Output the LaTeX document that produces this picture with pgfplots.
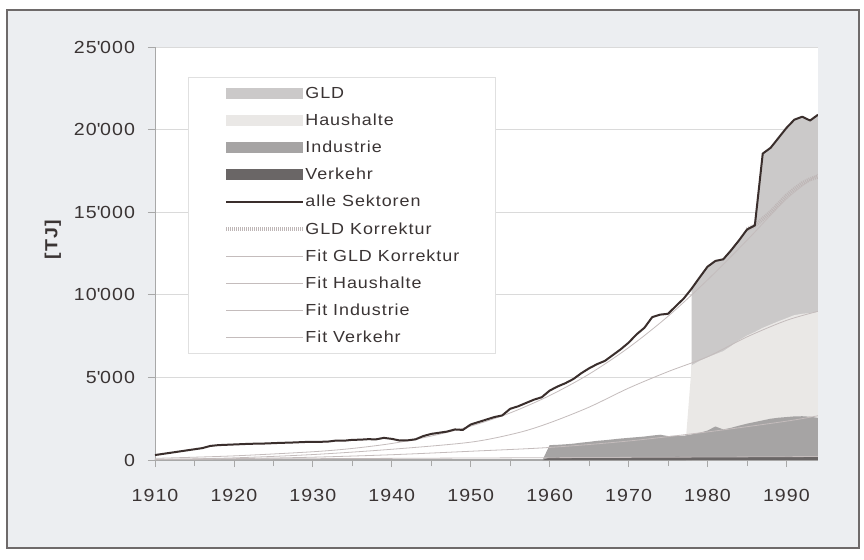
\documentclass[border=0pt]{standalone}
\usepackage{pgfplots}
\pgfplotsset{compat=1.18}
\usepackage{fontspec}
\setmainfont{Liberation Sans}[LetterSpace=6, FakeStretch=1.12]
\definecolor{bgc}{HTML}{ECEEF1}
\definecolor{framec}{HTML}{6E6A6A}
\definecolor{txt}{HTML}{3A3434}
\definecolor{gldc}{HTML}{CBC9C9}
\definecolor{haushc}{HTML}{EAE8E6}
\definecolor{indc}{HTML}{A6A4A4}
\definecolor{verkc}{HTML}{6A6666}
\definecolor{totc}{HTML}{3A2E2C}
\definecolor{fitc}{HTML}{C4BCBC}
\definecolor{gldkc}{HTML}{BEB6B6}
\definecolor{gridc}{HTML}{DADADA}
\definecolor{legc}{HTML}{E0E0E0}
\definecolor{axc}{HTML}{A8A8A8}
\pgfplotsset{
  areaLeg/.style={legend image code/.code={\path (0pt,0pt) -- (1pt,0pt); \fill[##1] (0pt,-2.8pt) rectangle (38.5pt,2.8pt);}},
  lineLeg/.style={legend image code/.code={\draw[##1] (0pt,0pt) -- (38.5pt,0pt);}},
}
\begin{document}
\begin{tikzpicture}
\path[fill=white] (0,0) rectangle (432pt,279.5pt);
\path[fill=bgc, draw=framec, line width=0.8pt] (3.5pt,5.5pt) rectangle (429.5pt,274.5pt);
\begin{axis}[
  at={(77.5pt,49.5pt)}, anchor=south west,
  scale only axis, width=331.5pt, height=206.5pt,
  xmin=1910, xmax=1994, ymin=0, ymax=25000,
  scaled y ticks=false,
  axis background/.style={fill=white},
  axis lines*=left, axis line style={-},
  x axis line style={draw=axc, line width=1.1pt},
  y axis line style={draw=axc, line width=0.4pt},
  xtick={1910,1920,...,1990},
  xticklabels={1910,1920,1930,1940,1950,1960,1970,1980,1990},
  minor x tick num=1,
  ytick={0,5000,10000,15000,20000,25000},
  yticklabels={0,5\textquotesingle000,10\textquotesingle000,15\textquotesingle000,20\textquotesingle000,25\textquotesingle000},
  tick align=outside, major tick length=3.5pt, minor tick length=3pt,
  tick style={draw=axc, line width=0.4pt},
  ymajorgrids, grid style={draw=gridc, line width=0.4pt},
  tick label style={font=\fontsize{8.75}{10}\selectfont, text=txt},
  xticklabel style={yshift=-7.5pt},
  yticklabel style={xshift=-3pt},
  ylabel={\bfseries [TJ]},
  ylabel style={at={(axis description cs:-0.154,0.533)}, anchor=center, font=\fontsize{8.75}{10}\selectfont, text=txt},
  legend cell align=left,
  legend style={
    at={(0.0498,0.927)}, anchor=north west,
    draw=legc, fill=white, line width=0.4pt,
    inner xsep=18pt, inner ysep=1.2pt,
    font=\fontsize{8}{9.5}\selectfont, text=txt,
    row sep=0pt,
    nodes={inner sep=0pt, text height=9.3pt, text depth=4.25pt},
    /tikz/every even column/.append style={column sep=2.5pt},
  },
]
% GLD (stack top = total)
\addplot[fill=gldc, draw=none, areaLeg] coordinates {
(1978,10380)(1979,11050)(1980,11700)(1981,12050)(1982,12150)(1983,12700)(1984,13300)(1985,13950)(1986,14200)(1987,18550)(1988,18900)(1989,19500)(1990,20100)(1991,20600)(1992,20780)(1993,20550)(1994,20900)
} \closedcycle;
\addlegendentry{GLD}
% Haushalte (stack top)
\addplot[fill=haushc, draw=none, areaLeg] coordinates {
(1977.3,1470)(1978,5730)(1979,6000)(1980,6210)(1981,6400)(1982,6590)(1983,6900)(1984,7250)(1985,7530)(1986,7750)(1987,8000)(1988,8200)(1989,8400)(1990,8580)(1991,8770)(1992,8850)(1993,8900)(1994,8960)
} \closedcycle;
\addlegendentry{Haushalte}
% Industrie (stack top)
\addplot[fill=indc, draw=none, areaLeg] coordinates {
(1959.1,0)(1960,900)(1961,920)(1962,950)(1963,990)(1964,1050)(1965,1100)(1966,1160)(1967,1200)(1968,1250)(1969,1300)(1970,1340)(1971,1380)(1972,1420)(1973,1480)(1974,1530)(1975,1450)(1976,1460)(1977,1470)(1978,1550)(1979,1650)(1980,1780)(1981,2030)(1982,1850)(1983,1950)(1984,2080)(1985,2200)(1986,2300)(1987,2400)(1988,2500)(1989,2560)(1990,2600)(1991,2640)(1992,2650)(1993,2620)(1994,2550)
} \closedcycle;
\addlegendentry{Industrie}
% Verkehr
\addplot[fill=verkc, draw=none, areaLeg] coordinates {
(1959.1,0)(1960,150)(1970,170)(1980,190)(1994,200)
} \closedcycle;
\addlegendentry{Verkehr}
\addlegendimage{lineLeg, draw=totc, line width=1pt}
\addlegendentry{alle Sektoren}
\addlegendimage{lineLeg, draw=gldkc, line width=2pt, dash pattern=on 0.5pt off 0.5pt}
\addlegendentry{GLD Korrektur}
\addlegendimage{lineLeg, draw=fitc, line width=0.4pt}
\addlegendentry{Fit GLD Korrektur}
\addlegendimage{lineLeg, draw=fitc, line width=0.4pt}
\addlegendentry{Fit Haushalte}
\addlegendimage{lineLeg, draw=fitc, line width=0.4pt}
\addlegendentry{Fit Industrie}
\addlegendimage{lineLeg, draw=fitc, line width=0.4pt}
\addlegendentry{Fit Verkehr}
% Fit Verkehr
\addplot[forget plot, draw=fitc, line width=0.4pt, smooth] coordinates {
(1910,40)(1920,60)(1930,80)(1940,100)(1950,120)(1960,140)(1970,160)(1980,180)(1994,210)
};
% Fit Industrie
\addplot[forget plot, draw=fitc, line width=0.4pt, smooth] coordinates {
(1910,30)(1920,80)(1930,170)(1940,320)(1950,530)(1960,760)(1970,1150)(1980,1700)(1990,2350)(1994,2680)
};
% Fit Haushalte
\addplot[forget plot, draw=fitc, line width=0.4pt, smooth] coordinates {
(1910,20)(1920,130)(1930,330)(1940,650)(1950,1080)(1956,1650)(1960,2250)(1965,3200)(1970,4350)(1975,5350)(1980,6250)(1985,7450)(1990,8450)(1994,9000)
};
% Fit GLD Korrektur
\addplot[forget plot, draw=fitc, line width=0.4pt, smooth] coordinates {
(1910,100)(1920,250)(1930,500)(1935,700)(1940,1000)(1945,1450)(1950,2050)(1955,2850)(1960,3900)(1965,5200)(1970,6800)(1975,8700)(1980,10900)(1985,13300)(1990,15800)(1994,17300)
};
% GLD Korrektur
\addplot[forget plot, draw=gldkc, line width=2pt, dash pattern=on 0.5pt off 0.5pt] coordinates {
(1985,13950)(1986,14200)(1987,14600)(1988,15000)(1989,15500)(1990,16000)(1991,16400)(1992,16750)(1993,17000)(1994,17150)
};
% alle Sektoren
\addplot[forget plot, draw=totc, line width=1pt, line join=round] coordinates {
(1910,300)(1911,370)(1912,440)(1913,510)(1914,580)(1915,650)(1916,720)(1917,850)(1918,900)(1919,920)(1920,940)(1921,960)(1922,980)(1923,990)(1924,1000)(1925,1020)(1926,1040)(1927,1050)(1928,1070)(1929,1090)(1930,1100)(1931,1100)(1932,1120)(1933,1180)(1934,1170)(1935,1220)(1936,1230)(1937,1260)(1938,1250)(1939,1340)(1940,1280)(1941,1180)(1942,1190)(1943,1250)(1944,1450)(1945,1580)(1946,1650)(1947,1720)(1948,1850)(1949,1820)(1950,2150)(1951,2300)(1952,2450)(1953,2600)(1954,2700)(1955,3100)(1956,3250)(1957,3450)(1958,3650)(1959,3800)(1960,4200)(1961,4450)(1962,4650)(1963,4900)(1964,5250)(1965,5550)(1966,5800)(1967,6000)(1968,6350)(1969,6700)(1970,7100)(1971,7600)(1972,8000)(1973,8650)(1974,8800)(1975,8850)(1976,9320)(1977,9780)(1978,10380)(1979,11050)(1980,11700)(1981,12050)(1982,12150)(1983,12700)(1984,13300)(1985,13950)(1986,14200)(1987,18550)(1988,18900)(1989,19500)(1990,20100)(1991,20600)(1992,20780)(1993,20550)(1994,20900)
};
\end{axis}
\end{tikzpicture}
\end{document}
